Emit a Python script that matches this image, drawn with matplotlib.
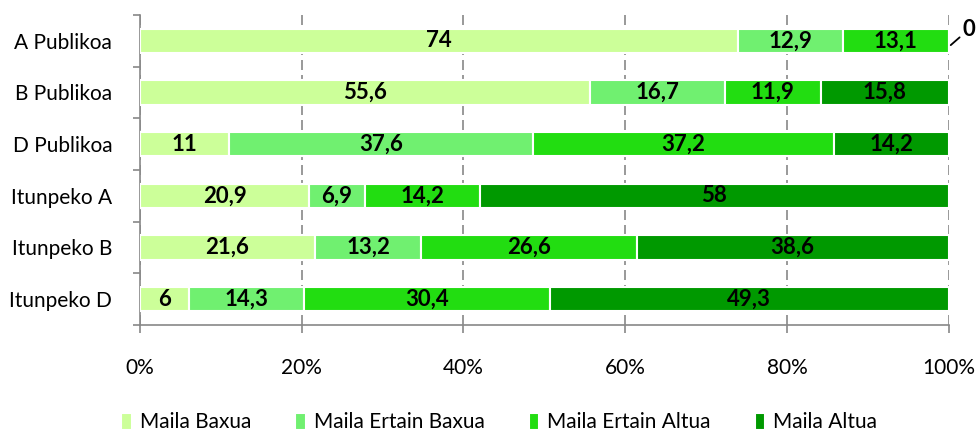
import matplotlib.pyplot as plt
import numpy as np

plt.rcParams['font.family'] = ['Lato', 'DejaVu Sans']

schools = ["A Publikoa", "B Publikoa", "D Publikoa", "Itunpeko A", "Itunpeko B", "Itunpeko D"]
levels = ["Maila Baxua", "Maila Ertain Baxua", "Maila Ertain Altua", "Maila Altua"]
baxua = [74, 55.6, 11, 20.9, 21.6, 6]
ertain_baxua = [12.9, 16.7, 37.6, 6.9, 13.2, 14.3]
ertain_altua = [13.1, 11.9, 37.2, 14.2, 26.6, 30.4]
altua = [0, 15.8, 14.2, 58, 38.6, 49.3]
colors = ["#CCFF99", "#70F070", "#22DD11", "#009900"]

series = [baxua, ertain_baxua, ertain_altua, altua]

fig = plt.figure(figsize=(9.79, 4.38), dpi=100)
ax = fig.add_axes([0.143, 0.258, 0.826, 0.708])

y = np.arange(len(schools))
left = np.zeros(len(schools))
for name, vals, col in zip(levels, series, colors):
    vals = np.array(vals, dtype=float)
    ax.barh(y, vals, left=left, height=0.47, color=col, edgecolor="white",
            linewidth=1.5, label=name, zorder=3)
    for yi, (l, v) in enumerate(zip(left, vals)):
        if v > 0:
            txt = ("%g" % v).replace(".", ",")
            ax.text(l + v / 2, yi, txt, ha="center", va="center",
                    fontsize=16, fontweight="bold", zorder=4)
    left += vals

# zero label for A Publikoa / Maila Altua
ax.annotate("0", xy=(100, 0.12), xytext=(101.7, -0.22), fontsize=16,
            fontweight="bold", ha="left", va="center", annotation_clip=False,
            arrowprops=dict(arrowstyle="-", color="black", lw=1.3,
                            shrinkA=0, shrinkB=2))

ax.set_xlim(0, 100)
ax.set_ylim(len(schools) - 0.5, -0.5)
ax.set_xticks(np.arange(0, 101, 20))
ax.set_xticklabels(["%d%%" % v for v in range(0, 101, 20)], fontsize=15)
ax.set_yticks(y)
ax.set_yticklabels(schools, fontsize=15)
ax.set_yticks(np.arange(-0.5, len(schools), 1), minor=True)
ax.tick_params(axis="y", which="major", length=0, pad=20)
ax.tick_params(axis="y", which="minor", length=5, color="#888888", width=1.2)
ax.tick_params(axis="x", length=6, color="#888888", width=1.2, pad=18)

ax.grid(axis="x", color="#888888", linestyle=(0, (6, 3)), linewidth=1.2, zorder=0)
for s in ["top", "right"]:
    ax.spines[s].set_visible(False)
for s in ["left", "bottom"]:
    ax.spines[s].set_color("#888888")
    ax.spines[s].set_linewidth(1.2)

fig.legend(loc="lower center", ncol=4, frameon=False, fontsize=15,
           bbox_to_anchor=(0.51, -0.03), handlelength=0.5, handleheight=0.9,
           columnspacing=2.1, handletextpad=0.4)

fig.savefig("out.png", dpi=100)
